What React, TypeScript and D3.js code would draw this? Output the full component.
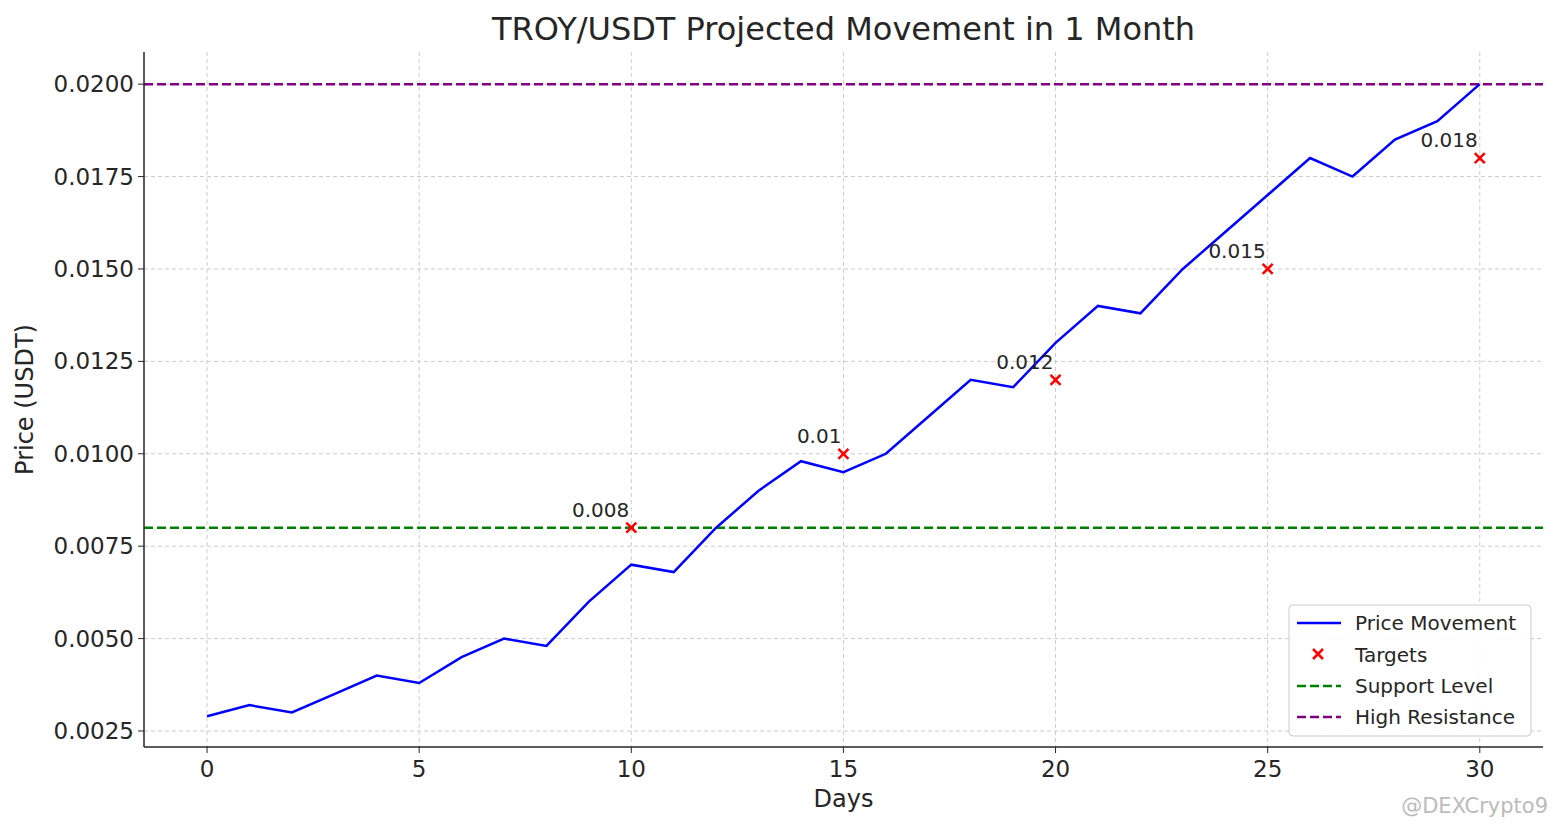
import React from "react";
import * as d3 from "d3";

const days = d3.range(0, 31);
const prices = [0.0029,0.0032,0.0030,0.0035,0.0040,0.0038,0.0045,0.0050,0.0048,0.0060,0.0070,0.0068,0.0080,0.0090,0.0098,0.0095,0.0100,0.0110,0.0120,0.0118,0.0130,0.0140,0.0138,0.0150,0.0160,0.0170,0.0180,0.0175,0.0185,0.0190,0.0200];
const targetDays = [10, 15, 20, 25, 30];
const targetVals = [0.008, 0.01, 0.012, 0.015, 0.018];
const targetLabels = ["0.008", "0.01", "0.012", "0.015", "0.018"];
const support = 0.008;
const resistance = 0.02;
const xTicks = [0, 5, 10, 15, 20, 25, 30];
const yTicks = [0.0025, 0.005, 0.0075, 0.01, 0.0125, 0.015, 0.0175, 0.02];

export default function App() {
  const W = 1557, H = 828;
  const L = 144, R = 1543, T = 52, B = 747;
  const x = d3.scaleLinear().domain([-1.486, 31.49]).range([L, R]);
  const y = d3.scaleLinear().domain([0.002067, 0.02087]).range([B, T]);
  const line = d3.line<number>().x((_, i) => x(days[i])).y(d => y(d));
  const font = "DejaVu Sans, sans-serif";
  const c = "#262626";
  return (
    <svg width={W} height={H} style={{ position: "absolute", left: 0, top: 0, background: "#fff" }} fontFamily={font}>
      {xTicks.map(t => <line key={"gx" + t} x1={x(t)} x2={x(t)} y1={T} y2={B} stroke="#ccc" strokeDasharray="4,3" />)}
      {yTicks.map(t => <line key={"gy" + t} x1={L} x2={R} y1={y(t)} y2={y(t)} stroke="#ccc" strokeDasharray="4,3" />)}
      <line x1={L} x2={R} y1={y(support)} y2={y(support)} stroke="green" strokeWidth={2.5} strokeDasharray="9,4" />
      <line x1={L} x2={R} y1={y(resistance)} y2={y(resistance)} stroke="purple" strokeWidth={2.5} strokeDasharray="9,4" />
      <path d={line(prices) || ""} fill="none" stroke="blue" strokeWidth={2.5} />
      {targetDays.map((d, i) => (
        <g key={"t" + d}>
          <path d={`M${x(d) - 5},${y(targetVals[i]) - 5}L${x(d) + 5},${y(targetVals[i]) + 5}M${x(d) - 5},${y(targetVals[i]) + 5}L${x(d) + 5},${y(targetVals[i]) - 5}`} stroke="red" strokeWidth={2.5} />
          <text x={x(d) - 2} y={y(targetVals[i]) - 11} textAnchor="end" fontSize={20} fill={c}>{targetLabels[i]}</text>
        </g>
      ))}
      <line x1={L} x2={L} y1={T} y2={B} stroke={c} strokeWidth={1.5} />
      <line x1={L} x2={R} y1={B} y2={B} stroke={c} strokeWidth={1.5} />
      {xTicks.map(t => (
        <g key={"xt" + t}>
          <line x1={x(t)} x2={x(t)} y1={B} y2={B + 6} stroke={c} />
          <text x={x(t)} y={B + 30} textAnchor="middle" fontSize={23} fill={c}>{t}</text>
        </g>
      ))}
      {yTicks.map(t => (
        <g key={"yt" + t}>
          <line x1={L - 6} x2={L} y1={y(t)} y2={y(t)} stroke={c} />
          <text x={L - 10} y={y(t) + 8} textAnchor="end" fontSize={23} fill={c}>{t.toFixed(4)}</text>
        </g>
      ))}
      <text x={(L + R) / 2} y={807} textAnchor="middle" fontSize={24} fill={c}>Days</text>
      <text transform={`translate(33,${(T + B) / 2}) rotate(-90)`} textAnchor="middle" fontSize={24} fill={c}>Price (USDT)</text>
      <text x={(L + R) / 2} y={40} textAnchor="middle" fontSize={32} fill={c}>TROY/USDT Projected Movement in 1 Month</text>
      <g transform="translate(1289,605)">
        <rect width={242} height={131} rx={4} fill="#fff" fillOpacity={0.85} stroke="#ccc" />
        <line x1={8} x2={52} y1={18} y2={18} stroke="blue" strokeWidth={2.5} />
        <text x={66} y={25} fontSize={20} fill={c}>Price Movement</text>
        <path d="M24,44L34,54M24,54L34,44" stroke="red" strokeWidth={2.5} />
        <text x={66} y={57} fontSize={20} fill={c}>Targets</text>
        <line x1={8} x2={52} y1={81} y2={81} stroke="green" strokeWidth={2.5} strokeDasharray="9,4" />
        <text x={66} y={88} fontSize={20} fill={c}>Support Level</text>
        <line x1={8} x2={52} y1={112} y2={112} stroke="purple" strokeWidth={2.5} strokeDasharray="9,4" />
        <text x={66} y={119} fontSize={20} fill={c}>High Resistance</text>
      </g>
      <text x={1548} y={813} textAnchor="end" fontSize={21} fill="#bbb">@DEXCrypto9</text>
    </svg>
  );
}
